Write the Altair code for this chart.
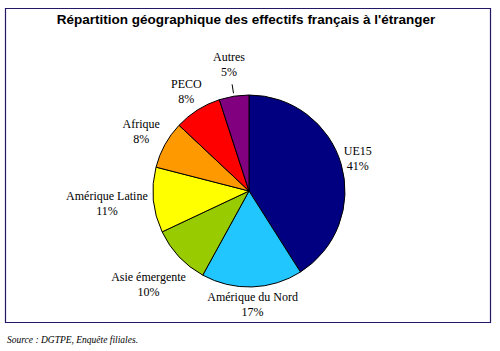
import altair as alt
import pandas as pd

categories = ["UE15", "Amérique du Nord", "Asie émergente", "Amérique Latine", "Afrique", "PECO", "Autres"]
values = [41, 17, 10, 11, 8, 8, 5]
colors = ["#000080", "#22C6FF", "#99CC00", "#FFFF00", "#FF9900", "#FF0000", "#800080"]

title_text = "Répartition géographique des effectifs français à l'étranger"
source_text = "Source : DGTPE, Enquête filiales."

W, H = 500, 351
CX, CY, R = 249, 191, 96

df = pd.DataFrame({
    "cat": categories,
    "val": values,
    "idx": list(range(len(categories))),
})
df["label"] = [f"{c}\n{v}%" for c, v in zip(categories, values)]
df["lw"] = [max(len(c), len(f"{v}%")) for c, v in zip(categories, values)]

base = alt.Chart(df).transform_joinaggregate(
    total="sum(val)"
).transform_window(
    cum="sum(val)", sort=[alt.SortField("idx")]
).transform_calculate(
    ang="2*PI*(datum.cum - datum.val/2)/datum.total",
    small="datum.val < 6 ? 1 : 0",
).transform_calculate(
    rlab=f"{R}+2+abs(sin(datum.ang))*datum.lw*2.9+abs(cos(datum.ang))*15+datum.small*12",
).transform_calculate(
    tx=f"{CX}+datum.rlab*sin(datum.ang)",
    ty=f"{CY}-datum.rlab*cos(datum.ang)",
    lx1=f"{CX}+({R}+3)*sin(datum.ang)",
    ly1=f"{CY}-({R}+3)*cos(datum.ang)",
    lx2=f"{CX}+({R}+12)*sin(datum.ang)",
    ly2=f"{CY}-({R}+12)*cos(datum.ang)",
)

pie = base.mark_arc(outerRadius=R, stroke="black", strokeWidth=1).encode(
    theta=alt.Theta("val:Q", stack=True),
    order=alt.Order("idx:Q"),
    color=alt.Color("cat:N", scale=alt.Scale(domain=categories, range=colors), legend=None),
    x=alt.value(CX),
    y=alt.value(CY),
)

labels = base.mark_text(
    font="Liberation Serif", fontSize=12, color="black", lineBreak="\n",
    align="center", baseline="middle", lineHeight=15, dy=-8,
).encode(
    x=alt.X("tx:Q", scale=None),
    y=alt.Y("ty:Q", scale=None),
    text="label:N",
)

leaders = base.transform_filter("datum.small == 1").mark_rule(color="black", strokeWidth=1).encode(
    x=alt.X("lx1:Q", scale=None),
    y=alt.Y("ly1:Q", scale=None),
    x2="lx2:Q",
    y2="ly2:Q",
)

frame = alt.Chart(pd.DataFrame({"a": [0]})).mark_rect(
    fill=None, stroke="#221866", strokeWidth=1.2
).encode(
    x=alt.value(5.5), x2=alt.value(490.5), y=alt.value(8.5), y2=alt.value(322.5)
)

title = alt.Chart(pd.DataFrame({"t": [title_text]})).mark_text(
    font="Liberation Sans", fontSize=13.5, fontWeight="bold", color="black",
    align="center", baseline="middle",
).encode(text="t:N", x=alt.value(246), y=alt.value(20))

source = alt.Chart(pd.DataFrame({"t": [source_text]})).mark_text(
    font="Liberation Serif", fontSize=9.5, fontStyle="italic", color="black",
    align="left", baseline="middle",
).encode(text="t:N", x=alt.value(7), y=alt.value(340))

chart = alt.layer(frame, pie, leaders, labels, title, source).properties(
    width=W, height=H, padding=0, autosize=alt.AutoSizeParams(type="none"),
    background="white",
).configure_view(stroke=None)

chart.save("out.html", embed_options={"renderer": "svg", "actions": False})
